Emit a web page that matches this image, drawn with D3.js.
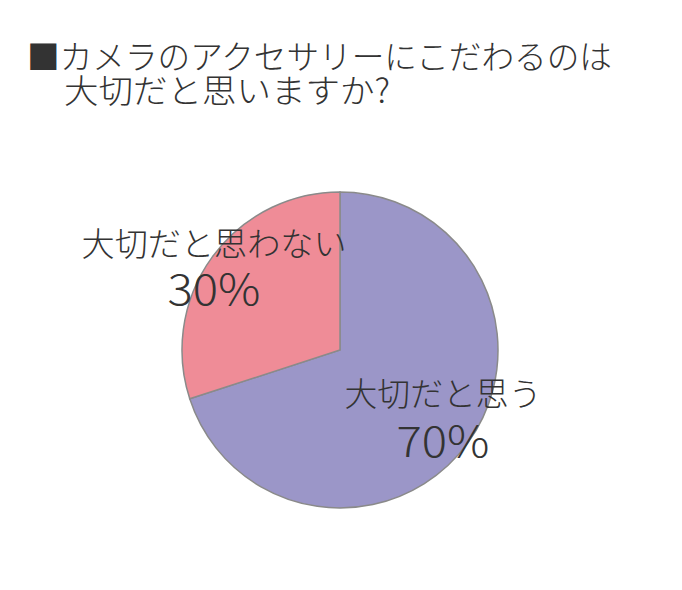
<!DOCTYPE html>
<html><head><meta charset="utf-8">
<script src="https://cdn.jsdelivr.net/npm/d3@7"></script>
<style>body{margin:0;background:#fff}svg{display:block}</style>
</head><body>
<svg id="c" width="682" height="590"></svg>
<script>
const titleLines = ["■カメラのアクセサリーにこだわるのは", "大切だと思いますか?"];
const categories = ["大切だと思う", "大切だと思わない"];
const values = [70, 30];
const pctLabels = ["70%", "30%"];
const colors = ["#9b96c8", "#ef8c97"];

const svg = d3.select("#c");
const font = "'Noto Sans CJK JP', 'Noto Sans', sans-serif";
const ink = "#333333";

svg.append("text").attr("x", 27).attr("y", 69)
  .attr("font-family", font).attr("font-weight", 300).attr("font-size", 33)
  .attr("fill", ink).attr("textLength", 585).attr("lengthAdjust", "spacingAndGlyphs")
  .text(titleLines[0]);
svg.append("text").attr("x", 64).attr("y", 103)
  .attr("font-family", font).attr("font-weight", 300).attr("font-size", 33)
  .attr("fill", ink).attr("textLength", 326).attr("lengthAdjust", "spacingAndGlyphs")
  .text(titleLines[1]);

const cx = 340, cy = 350, r = 158;
const pie = d3.pie().sort(null).value(d => d)(values);
const arc = d3.arc().innerRadius(0).outerRadius(r);
const g = svg.append("g").attr("transform", `translate(${cx},${cy})`);
g.selectAll("path").data(pie).join("path")
  .attr("d", arc)
  .attr("fill", (d, i) => colors[i])
  .attr("stroke", "#8a8a8a").attr("stroke-width", 1.5);

// label layout
const labelPos = [
  {x: 443, y1: 406, y2: 457, w1: 197, w2: 93},
  {x: 214, y1: 256, y2: 305, w1: 265, w2: 93}
];
categories.forEach((c, i) => {
  const p = labelPos[i];
  svg.append("text").attr("x", p.x).attr("y", p.y1).attr("text-anchor", "middle")
    .attr("font-family", font).attr("font-weight", 300).attr("font-size", 33)
    .attr("fill", ink).attr("textLength", p.w1).attr("lengthAdjust", "spacingAndGlyphs")
    .text(c);
  svg.append("text").attr("x", p.x).attr("y", p.y2).attr("text-anchor", "middle")
    .attr("font-family", font).attr("font-weight", 300).attr("font-size", 43)
    .attr("fill", ink).attr("textLength", p.w2).attr("lengthAdjust", "spacingAndGlyphs")
    .text(pctLabels[i]);
});
</script>
</body></html>
